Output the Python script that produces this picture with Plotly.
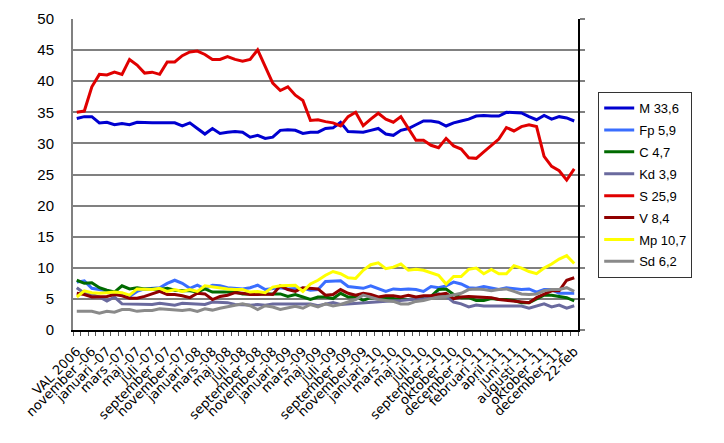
import plotly.graph_objects as go

labels = ["VAL 2006", "november -06", "januari -07", "mars -07", "maj -07", "juli -07",
          "september -07", "november -07", "januari -08", "mars -08", "maj -08", "juli -08",
          "september -08", "november -08", "januari -09", "mars -09", "maj -09", "juli -09",
          "september -09", "november -09", "januari -10", "mars -10", "maj -10", "juli -10",
          "september -10", "oktober -10", "december -10", "februari -11", "april -11",
          "juni -11", "augusti -11", "oktober -11", "december -11", "22-feb"]

M = [34.0, 34.3, 34.3, 33.3, 33.4, 33.0, 33.2, 33.0, 33.4, 33.3, 33.3, 33.3, 33.3, 33.3, 32.8,
     33.3, 32.4, 31.5, 32.4, 31.6, 31.8, 31.9, 31.8, 31.0, 31.3, 30.8, 31.0, 32.1, 32.2, 32.1,
     31.6, 31.8, 31.8, 32.4, 32.5, 33.4, 31.9, 31.8, 31.8, 32.1, 32.4, 31.5, 31.3, 32.1, 32.4,
     33.0, 33.6, 33.6, 33.4, 32.8, 33.3, 33.6, 33.9, 34.4, 34.5, 34.4, 34.4, 35.0, 34.9, 34.9,
     34.3, 33.8, 34.5, 33.9, 34.3, 34.1, 33.6]
Fp = [7.7, 7.9, 6.7, 6.5, 6.3, 5.8, 5.9, 5.4, 6.2, 6.6, 6.7, 6.8, 7.5, 8.0, 7.5, 6.7, 7.2,
      6.6, 7.2, 7.1, 6.8, 6.7, 6.6, 6.8, 7.2, 6.5, 6.6, 6.8, 6.6, 6.7, 6.7, 6.4, 6.5, 7.8,
      7.9, 7.9, 7.0, 6.9, 6.7, 7.1, 6.6, 6.2, 6.6, 6.5, 6.6, 6.5, 6.2, 7.0, 6.8, 7.1, 7.7,
      7.4, 6.8, 6.7, 7.0, 6.8, 6.5, 6.8, 6.6, 6.5, 6.6, 6.1, 6.5, 6.5, 5.9, 5.9, 5.9]
C = [8.0, 7.5, 7.6, 6.8, 6.4, 6.1, 7.1, 6.6, 6.8, 6.6, 6.6, 6.5, 6.7, 6.4, 6.3, 6.3, 6.1,
     6.6, 6.1, 6.1, 6.0, 6.1, 5.8, 5.8, 5.7, 5.8, 5.7, 5.8, 5.4, 5.7, 5.3, 4.9, 5.3, 5.3,
     5.05, 5.9, 5.3, 5.4, 4.75, 5.2, 5.05, 5.05, 5.05, 4.9, 4.9, 5.05, 5.2, 5.4, 6.5, 6.6,
     5.7, 5.2, 5.2, 4.75, 4.75, 5.05, 4.9, 4.9, 4.75, 4.4, 4.4, 5.05, 5.6, 5.6, 5.4, 5.2, 4.7]
Kd = [6.8, 5.9, 5.7, 5.3, 4.65, 5.3, 4.2, 4.2, 4.2, 4.2, 4.1, 4.3, 4.2, 4.0, 4.3, 4.2, 4.2,
      4.1, 4.5, 4.5, 4.4, 4.1, 4.0, 4.0, 4.1, 4.0, 4.2, 4.2, 4.2, 4.1, 4.2, 4.2, 3.9, 4.1,
      4.4, 4.1, 4.2, 4.2, 4.4, 4.5, 4.5, 4.6, 4.7, 4.75, 4.9, 5.0, 5.0, 5.4, 5.8, 5.4, 4.5,
      4.2, 3.7, 4.0, 3.85, 3.85, 3.85, 3.85, 3.85, 3.85, 3.5, 3.85, 4.2, 3.7, 4.0, 3.5, 3.9]
S = [35.0, 35.2, 39.1, 41.1, 41.0, 41.45, 41.1, 43.5, 42.6, 41.3, 41.45, 41.1, 43.1, 43.1,
     44.1, 44.7, 44.85, 44.3, 43.5, 43.5, 43.95, 43.5, 43.2, 43.5, 45.05, 42.45, 39.7, 38.5,
     39.1, 37.75, 36.9, 33.7, 33.8, 33.5, 33.3, 32.8, 34.3, 35.0, 32.85, 33.9, 34.85, 33.9,
     33.4, 34.3, 32.4, 30.5, 30.5, 29.7, 29.3, 30.8, 29.6, 29.1, 27.7, 27.6, 28.65, 29.7,
     30.7, 32.55, 32.0, 32.7, 33.0, 32.7, 27.9, 26.3, 25.6, 24.1, 25.9]
V = [5.9, 5.7, 5.3, 5.3, 5.4, 5.7, 5.5, 5.1, 5.1, 5.4, 5.8, 6.2, 5.7, 5.7, 5.5, 5.2, 5.9,
     5.8, 4.9, 5.4, 5.6, 6.0, 5.9, 5.7, 5.7, 5.8, 5.7, 7.1, 6.5, 6.2, 6.8, 6.7, 6.6, 5.6,
     5.7, 6.5, 5.9, 5.6, 5.9, 5.7, 5.3, 5.5, 5.5, 5.3, 5.6, 5.3, 5.5, 5.5, 5.7, 5.9, 5.05,
     5.3, 5.4, 5.3, 5.2, 5.2, 4.9, 4.75, 4.65, 4.5, 4.4, 5.2, 5.8, 6.3, 6.3, 8.0, 8.4]
Mp = [5.3, 6.3, 6.0, 5.9, 6.0, 6.1, 6.0, 5.6, 6.6, 6.6, 6.5, 6.7, 6.2, 6.5, 6.2, 6.5, 6.2,
      7.1, 6.9, 6.7, 6.6, 6.5, 6.5, 6.1, 6.2, 6.0, 6.9, 7.1, 7.1, 7.2, 6.2, 7.4, 8.0, 8.8,
      9.4, 9.05, 8.4, 8.3, 9.6, 10.5, 10.8, 9.85, 10.1, 10.6, 9.6, 9.75, 9.6, 9.2, 8.8, 7.4,
      8.6, 8.6, 9.75, 9.95, 9.05, 9.75, 9.05, 9.05, 10.35, 9.95, 9.4, 9.05, 9.95, 10.6, 11.4,
      11.95, 10.7]
Sd = [3.0, 3.0, 3.0, 2.7, 3.0, 2.85, 3.3, 3.3, 3.0, 3.15, 3.15, 3.4, 3.3, 3.15, 3.15, 3.3,
      3.0, 3.4, 3.2, 3.5, 3.7, 4.0, 4.2, 3.9, 3.3, 3.9, 3.7, 3.3, 3.5, 3.8, 3.5, 4.1, 3.7,
      4.2, 3.85, 4.1, 4.5, 4.9, 5.6, 5.3, 4.9, 4.75, 4.6, 4.2, 4.2, 4.6, 4.75, 5.05, 5.3,
      5.4, 5.7, 5.9, 6.5, 6.6, 6.5, 6.3, 6.5, 6.6, 6.2, 5.8, 5.7, 5.8, 6.3, 6.5, 6.5, 6.8, 6.2]

series = [("M 33,6", M, "#0000D0"), ("Fp 5,9", Fp, "#3A6EFF"), ("C 4,7", C, "#006A00"),
          ("Kd 3,9", Kd, "#6A6A9E"), ("S 25,9", S, "#E00000"), ("V 8,4", V, "#900000"),
          ("Mp 10,7", Mp, "#FFFF00"), ("Sd 6,2", Sd, "#8A8A8A")]

n = len(M)
xs = list(range(n))

fig = go.Figure()
for name, vals, col in series:
    fig.add_trace(go.Scatter(x=xs, y=vals, mode="lines", name=name, legendgroup=name,
                             line=dict(color=col, width=3)))
fig.add_trace(go.Scatter(x=[0], y=[None], yaxis="y2", showlegend=False, hoverinfo="skip"))

fig.update_layout(
    width=724, height=443,
    margin=dict(l=73, r=146, t=10, b=113),
    paper_bgcolor="white", plot_bgcolor="white",
    showlegend=True,
    legend=dict(x=1.04, xanchor="left", y=0.765, yanchor="top",
                bordercolor="#333333", borderwidth=1, bgcolor="white",
                font=dict(family="Liberation Sans", size=13, color="black"),
                tracegroupgap=2, itemwidth=30),
    xaxis=dict(range=[-0.5, n - 0.5], tickmode="array",
               tickvals=list(range(0, n, 2)), ticktext=labels,
               tickangle=-45, ticks="", ticklabelstandoff=7,
               tickfont=dict(family="DejaVu Sans", size=13, color="black"),
               showline=True, linecolor="black", linewidth=1.5, showgrid=False,
               zeroline=False,
               minor=dict(tickmode="array", tickvals=[i - 0.5 for i in range(n + 1)],
                          ticks="outside", ticklen=4, tickcolor="#555555", tickwidth=1,
                          showgrid=False)),
    yaxis=dict(range=[0, 50], tickmode="array", tickvals=list(range(0, 51, 5)),
               ticks="", ticklabelstandoff=14,
               tickfont=dict(family="Liberation Sans", size=15, color="black"),
               showgrid=True, gridcolor="#808080", gridwidth=2,
               showline=True, linecolor="#808080", linewidth=2, zeroline=False),
    yaxis2=dict(overlaying="y", side="right", range=[0, 50], tickmode="array",
                tickvals=list(range(0, 51, 5)), ticks="outside", ticklen=5,
                tickcolor="#808080", tickwidth=2, showticklabels=False, showgrid=False,
                showline=True, linecolor="black", linewidth=2, zeroline=False),
)

fig.write_html("out.html")
